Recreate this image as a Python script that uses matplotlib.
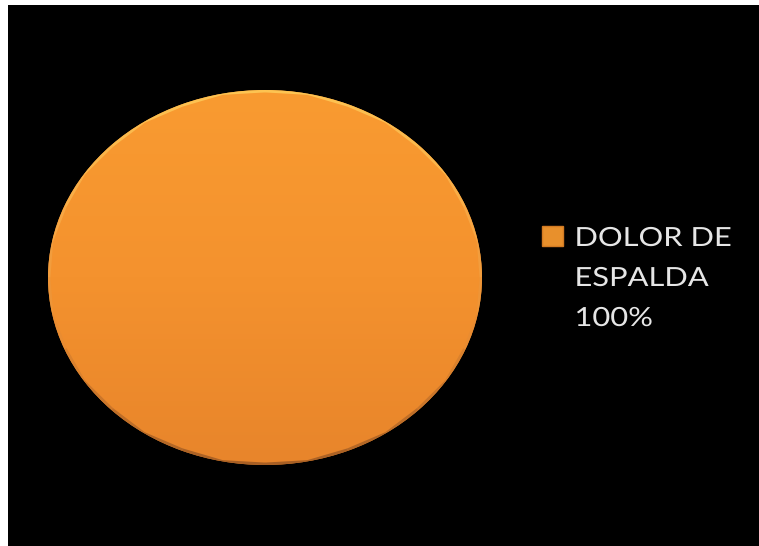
import numpy as np
import matplotlib.pyplot as plt
from matplotlib.patches import Rectangle
from matplotlib.patheffects import AbstractPathEffect
from matplotlib.transforms import Affine2D
from matplotlib.colors import LinearSegmentedColormap
from matplotlib.collections import LineCollection

# datos del grafico
categorias = ['DOLOR DE\nESPALDA\n100%']
valores = [100]
colores = ['#F7962F']


# estira el texto en horizontal (la imagen original esta ensanchada)
class Estirar(AbstractPathEffect):
    def __init__(self, sx, x0):
        super().__init__()
        self.sx = sx
        self.x0 = x0

    def draw_path(self, renderer, gc, tpath, affine, rgbFace=None):
        t = affine + Affine2D().translate(-self.x0, 0).scale(self.sx, 1).translate(self.x0, 0)
        renderer.draw_path(gc, tpath, t, rgbFace)


fig = plt.figure(figsize=(7.59, 5.46), dpi=100)
fig.patch.set_facecolor('white')

# fondo negro (deja un borde blanco arriba y a la izquierda)
fig.patches.append(Rectangle((8 / 759, 0), 1 - 8 / 759, 1 - 5 / 546,
                             transform=fig.transFigure, facecolor='black',
                             edgecolor='none', zorder=-5))

ax = fig.add_axes([48 / 759, 1 - 465 / 546, 434 / 759, 375 / 546])
ax.set_facecolor('none')
wedges, _ = ax.pie(valores, labels=None, colors=colores, startangle=90,
                   wedgeprops=dict(edgecolor='none', linewidth=0))
ax.set_aspect('auto')
ax.set_xlim(-1, 1)
ax.set_ylim(-1, 1)
ax.axis('off')

# degradado suave dentro del pastel
cm = LinearSegmentedColormap.from_list('naranja', ['#E8852B', '#F4922E', '#F99B31'])
grad = np.linspace(1, 0, 200).reshape(-1, 1)
img = ax.imshow(grad, extent=(-1, 1, -1, 1), cmap=cm, vmin=0, vmax=1,
                aspect='auto', zorder=0.5)
img.set_clip_path(wedges[0])
wedges[0].set_facecolor('none')

# borde: claro arriba, oscuro abajo
poly = wedges[0].get_patch_transform().transform(
    np.concatenate(wedges[0].get_path().to_polygons()))
segs = np.stack([poly[:-1], poly[1:]], axis=1)
ymed = segs[:, :, 1].mean(axis=1)
cm_borde = LinearSegmentedColormap.from_list('borde', ['#A85F24', '#E88A30', '#F8A844', '#FDC452'])
lc = LineCollection(segs, array=ymed, cmap=cm_borde, linewidths=3.5, zorder=2)
lc.set_clim(-1, 1)
lc.set_clip_path(wedges[0])
ax.add_collection(lc)

leg = fig.legend(wedges, categorias, loc='upper left',
                 bbox_to_anchor=(542 / 759, 1 - 226 / 546),
                 frameon=False, prop={'family': 'Lato', 'size': 19},
                 handlelength=0.78, handleheight=0.78, handletextpad=0.45,
                 labelspacing=0.5, borderpad=0, borderaxespad=0)
for t in leg.get_texts():
    t.set_color('#E6E6E6')
    t.set_linespacing(1.75)
for h in leg.legend_handles:
    h.set_facecolor('#E8902C')
    h.set_edgecolor('#D27A22')
    h.set_linewidth(1)
# alinear el cuadrito con la primera linea del texto
for col in leg._legend_handle_box.get_children():
    for fila in col.get_children():
        fila.align = 'top'

fig.canvas.draw()
for t in leg.get_texts():
    x0 = t.get_window_extent().x0
    t.set_path_effects([Estirar(1.17, x0)])

fig.savefig('out.png', dpi=100, facecolor=fig.get_facecolor())
